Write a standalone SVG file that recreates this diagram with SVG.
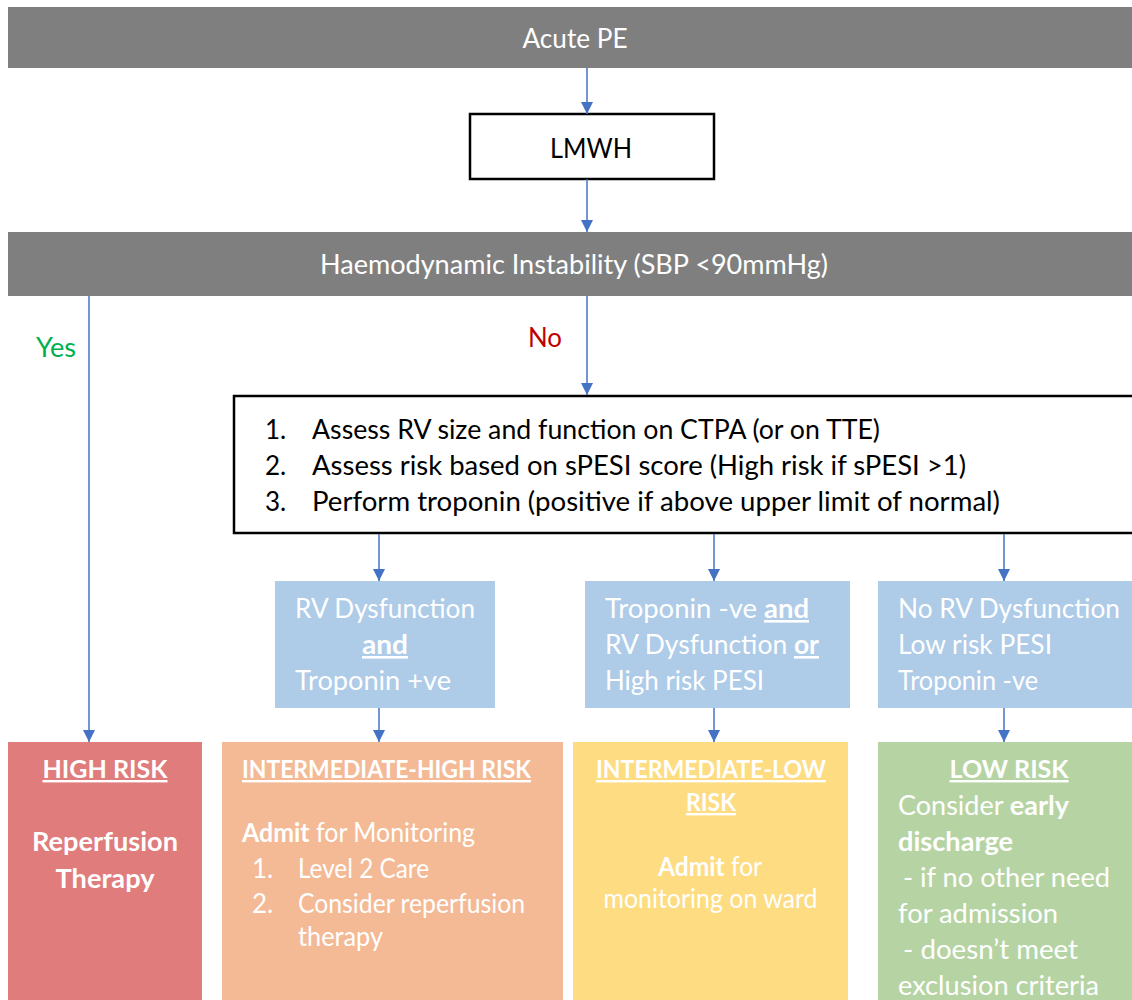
<svg xmlns="http://www.w3.org/2000/svg" width="1132" height="1000" viewBox="0 0 1132 1000">
<defs>
<marker id="ah" viewBox="0 0 10 10" refX="10" refY="5" markerWidth="12" markerHeight="12" markerUnits="userSpaceOnUse" orient="auto"><path d="M0,0 L10,5 L0,10 z" fill="#4472C4"/></marker>
</defs>
<style>
text{font-family:Lato,"Open Sans","Liberation Sans",sans-serif;font-size:26px}
.w{fill:#fff}
.k{fill:#000}
.b{font-weight:bold}
.u{text-decoration:underline}
.c{text-anchor:middle}
.h{font-size:24px}
.con line{stroke:#4472C4;stroke-width:1.5;marker-end:url(#ah)}
</style>
<rect width="1132" height="1000" fill="#fff"/>
<g id="acute-pe"><rect x="8" y="7" width="1130" height="61" fill="#7F7F7F"/><text class="w c" x="575" y="48" textLength="105" lengthAdjust="spacingAndGlyphs">Acute PE</text></g>
<g id="lmwh"><rect x="470" y="114" width="244" height="65" fill="#fff" stroke="#000" stroke-width="2.5"/><text class="k c" x="591" y="158" textLength="82" lengthAdjust="spacingAndGlyphs">LMWH</text></g>
<g id="haemo"><rect x="8" y="232" width="1130" height="64" fill="#7F7F7F"/><text class="w c" x="574" y="274" textLength="508" lengthAdjust="spacingAndGlyphs">Haemodynamic Instability (SBP &lt;90mmHg)</text></g>
<g id="assess"><rect x="234" y="396" width="910" height="137" fill="#fff" stroke="#000" stroke-width="2.5"/>
<text class="k" x="265" y="439">1.</text><text class="k" x="312" y="439" textLength="568" lengthAdjust="spacingAndGlyphs">Assess RV size and function on CTPA (or on TTE)</text>
<text class="k" x="265" y="475">2.</text><text class="k" x="312" y="475" textLength="654" lengthAdjust="spacingAndGlyphs">Assess risk based on sPESI score (High risk if sPESI &gt;1)</text>
<text class="k" x="265" y="511">3.</text><text class="k" x="312" y="511" textLength="688" lengthAdjust="spacingAndGlyphs">Perform troponin (positive if above upper limit of normal)</text></g>
<g id="rv-trop"><rect x="275" y="581" width="220" height="127" fill="#AECBE8"/>
<text class="w" x="295" y="618" textLength="180" lengthAdjust="spacingAndGlyphs">RV Dysfunction</text><text class="w b u c" x="385" y="654" textLength="46" lengthAdjust="spacingAndGlyphs">and</text><text class="w" x="295" y="690" textLength="156" lengthAdjust="spacingAndGlyphs">Troponin +ve</text></g>
<g id="trop-neg"><rect x="585" y="581" width="265" height="127" fill="#AECBE8"/>
<text class="w" x="605" y="618" textLength="204" lengthAdjust="spacingAndGlyphs">Troponin -ve <tspan class="b u">and</tspan></text><text class="w" x="605" y="654" textLength="214" lengthAdjust="spacingAndGlyphs">RV Dysfunction <tspan class="b u">or</tspan></text><text class="w" x="605" y="690" textLength="159" lengthAdjust="spacingAndGlyphs">High risk PESI</text></g>
<g id="no-rv"><rect x="878" y="581" width="260" height="127" fill="#AECBE8"/>
<text class="w" x="898" y="618" textLength="222" lengthAdjust="spacingAndGlyphs">No RV Dysfunction</text><text class="w" x="898" y="654" textLength="154" lengthAdjust="spacingAndGlyphs">Low risk PESI</text><text class="w" x="898" y="690" textLength="140" lengthAdjust="spacingAndGlyphs">Troponin -ve</text></g>
<g id="high-risk"><rect x="8" y="742" width="194" height="260" fill="#E07C7C"/>
<text class="w b u c h" x="105" y="778" textLength="125" lengthAdjust="spacingAndGlyphs">HIGH RISK</text><text class="w b c" x="105" y="851" textLength="146" lengthAdjust="spacingAndGlyphs">Reperfusion</text><text class="w b c" x="105" y="888" textLength="99" lengthAdjust="spacingAndGlyphs">Therapy</text></g>
<g id="int-high"><rect x="222" y="742" width="341" height="260" fill="#F4BA96"/>
<text class="w b u h" x="242" y="778" textLength="289" lengthAdjust="spacingAndGlyphs">INTERMEDIATE-HIGH RISK</text>
<text class="w" x="242" y="842" textLength="233" lengthAdjust="spacingAndGlyphs"><tspan class="b">Admit</tspan> for Monitoring</text>
<text class="w" x="252" y="878">1.</text><text class="w" x="298" y="878" textLength="131" lengthAdjust="spacingAndGlyphs">Level 2 Care</text>
<text class="w" x="252" y="913">2.</text><text class="w" x="298" y="913" textLength="227" lengthAdjust="spacingAndGlyphs">Consider reperfusion</text>
<text class="w" x="298" y="946" textLength="85" lengthAdjust="spacingAndGlyphs">therapy</text></g>
<g id="int-low"><rect x="573" y="742" width="275" height="260" fill="#FEDC82"/>
<text class="w b u c h" x="711" y="778" textLength="230" lengthAdjust="spacingAndGlyphs">INTERMEDIATE-LOW</text><text class="w b u c h" x="711" y="811" textLength="50" lengthAdjust="spacingAndGlyphs">RISK</text>
<text class="w c" x="710" y="876" textLength="104" lengthAdjust="spacingAndGlyphs"><tspan class="b">Admit</tspan> for</text><text class="w c" x="710.5" y="908" textLength="214" lengthAdjust="spacingAndGlyphs">monitoring on ward</text></g>
<g id="low-risk"><rect x="878" y="742" width="260" height="260" fill="#B6D4A3"/>
<text class="w b u c h" x="1009" y="778" textLength="119" lengthAdjust="spacingAndGlyphs">LOW RISK</text>
<text class="w" x="898" y="815" textLength="171" lengthAdjust="spacingAndGlyphs">Consider <tspan class="b">early</tspan></text>
<text class="w b" x="898" y="851" textLength="115" lengthAdjust="spacingAndGlyphs">discharge</text>
<text class="w" x="903" y="887" textLength="207" lengthAdjust="spacingAndGlyphs">- if no other need</text>
<text class="w" x="898" y="923" textLength="160" lengthAdjust="spacingAndGlyphs">for admission</text>
<text class="w" x="903" y="959" textLength="175" lengthAdjust="spacingAndGlyphs">- doesn’t meet</text>
<text class="w" x="898" y="995" textLength="201" lengthAdjust="spacingAndGlyphs">exclusion criteria</text></g>
<g id="labels"><text x="36" y="357" fill="#00B050" textLength="40" lengthAdjust="spacingAndGlyphs">Yes</text><text x="528" y="347" fill="#C00000" textLength="34" lengthAdjust="spacingAndGlyphs">No</text></g>
<g class="con" id="connectors">
<line x1="587" y1="68" x2="587" y2="114"/>
<line x1="587" y1="179" x2="587" y2="232"/>
<line x1="89" y1="296" x2="89" y2="742"/>
<line x1="587" y1="296" x2="587" y2="395"/>
<line x1="379" y1="534" x2="379" y2="581"/>
<line x1="714" y1="534" x2="714" y2="581"/>
<line x1="1004" y1="534" x2="1004" y2="581"/>
<line x1="379" y1="708" x2="379" y2="742"/>
<line x1="714" y1="708" x2="714" y2="742"/>
<line x1="1004" y1="708" x2="1004" y2="742"/>
</g>
</svg>
